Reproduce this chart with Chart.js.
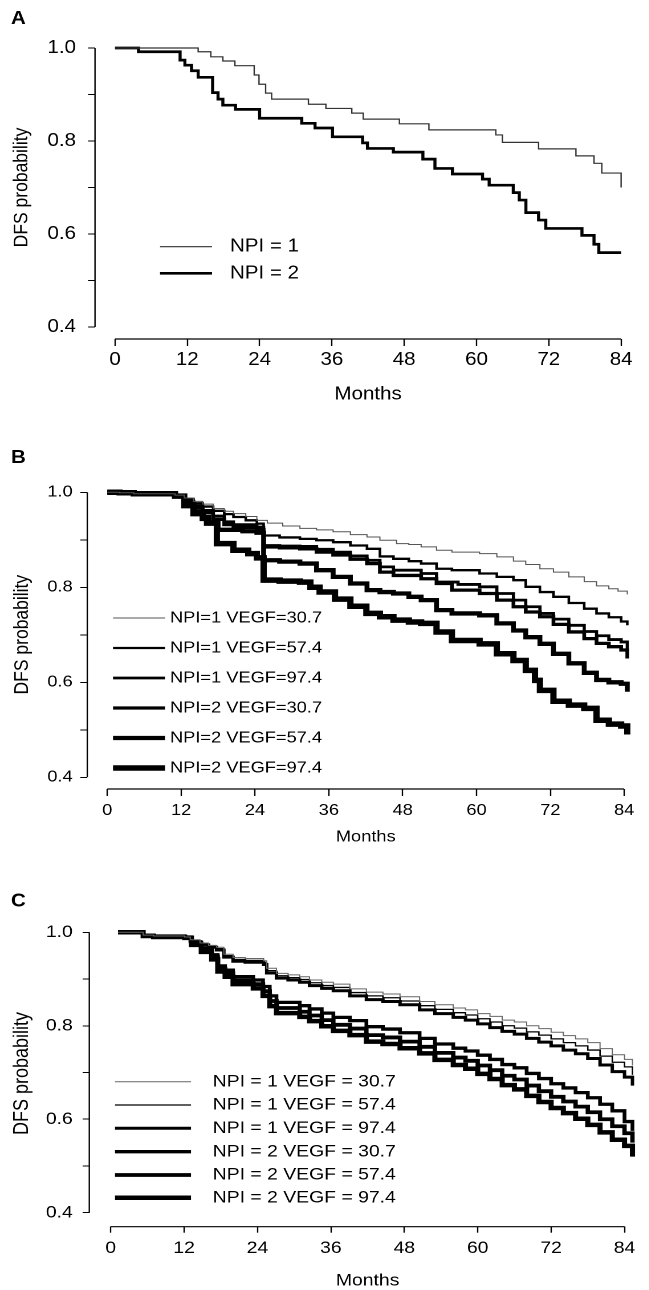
<!DOCTYPE html>
<html><head><meta charset="utf-8">
<script src="https://cdn.jsdelivr.net/npm/chart.js@4/dist/chart.umd.min.js"></script>
<style>
html,body{margin:0;padding:0;background:#fff;}
body{width:649px;height:1290px;position:relative;overflow:hidden;}
.panel{position:absolute;left:0;transform-origin:0 0;transform:scaleX(1.14);}
canvas{display:block;}
</style></head><body>
<div class="panel" style="top:0px"><canvas id="cA"></canvas></div>
<div class="panel" style="top:420px"><canvas id="cB"></canvas></div>
<div class="panel" style="top:860px"><canvas id="cC"></canvas></div>
<script>
// ---------- tick labels ----------
const xTicks = [0, 12, 24, 36, 48, 60, 72, 84];
const yTicks = [0.4, 0.5, 0.6, 0.7, 0.8, 0.9, 1.0];
const yTickLabels = ['0.4', '', '0.6', '', '0.8', '', '1.0'];

// ---------- legends ----------
const legendA = ['NPI = 1', 'NPI = 2'];
const legendB = ['NPI=1 VEGF=30.7', 'NPI=1 VEGF=57.4', 'NPI=1 VEGF=97.4', 'NPI=2 VEGF=30.7', 'NPI=2 VEGF=57.4', 'NPI=2 VEGF=97.4'];
const legendC = ['NPI = 1 VEGF = 30.7', 'NPI = 1 VEGF = 57.4', 'NPI = 1 VEGF = 97.4', 'NPI = 2 VEGF = 30.7', 'NPI = 2 VEGF = 57.4', 'NPI = 2 VEGF = 97.4'];

// ---------- Panel A : [month, DFS probability] ----------
const aNpi1 = [[0,1.0],[13.8,0.992],[15.9,0.981],[17.9,0.972],[19.9,0.962],[23.1,0.942],[23.9,0.922],[25,0.903],[26,0.890],[32.1,0.879],[35,0.870],[39.3,0.860],[41.2,0.847],[47.2,0.837],[52.1,0.824],[63.2,0.813],[64.3,0.797],[70.3,0.783],[76.5,0.768],[79.5,0.752],[80.8,0.731],[84,0.700]];
const aNpi2 = [[0,1.0],[3.9,0.992],[10.8,0.974],[11.6,0.963],[12.7,0.951],[13.8,0.937],[16.2,0.904],[17.1,0.890],[17.9,0.877],[20,0.868],[24,0.849],[31,0.838],[33.2,0.828],[36.1,0.809],[41.1,0.796],[41.9,0.784],[46.2,0.776],[51.1,0.761],[53.1,0.741],[56,0.729],[61,0.718],[62.1,0.705],[66.1,0.689],[67.1,0.673],[68.2,0.646],[70.3,0.630],[71.5,0.612],[77.5,0.597],[79.5,0.578],[80.3,0.560],[84,0.560]];

// ---------- Panel B ----------
const bN1V31 = [[0,1],[2,0.999],[4.3,0.997],[11,0.994],[12.5,0.988],[14,0.981],[15.5,0.975],[17.2,0.966],[19,0.960],[20.5,0.955],[22.5,0.949],[24.3,0.941],[26,0.935],[28.5,0.929],[31.3,0.924],[34,0.921],[36.7,0.917],[39.5,0.911],[42.2,0.906],[44.3,0.899],[47,0.892],[49,0.890],[51,0.885],[53.5,0.878],[56,0.874],[60.5,0.871],[63.3,0.864],[66,0.855],[68,0.848],[70.3,0.839],[72.5,0.832],[75,0.822],[77.5,0.812],[79.5,0.803],[81.5,0.797],[83,0.792],[84.5,0.785]];
const bN1V57 = [[0,1],[2,0.999],[4.3,0.997],[11,0.994],[12.5,0.986],[14,0.977],[15.5,0.970],[17.2,0.961],[19,0.954],[20.5,0.948],[22.5,0.941],[24.3,0.934],[25.4,0.909],[28,0.905],[31.3,0.902],[34,0.899],[36.7,0.895],[39.5,0.888],[42.2,0.881],[44.3,0.865],[46.5,0.860],[49,0.855],[51,0.850],[53.5,0.839],[56,0.836],[60.5,0.829],[63.3,0.822],[66,0.815],[68,0.801],[70.3,0.790],[72.5,0.780],[75,0.767],[77.5,0.755],[79.5,0.745],[81.5,0.737],[83.5,0.728],[84.5,0.720]];
const bN1V97 = [[0,1],[2,0.999],[4.3,0.997],[11,0.993],[12.5,0.982],[14,0.972],[15.5,0.962],[17.2,0.950],[19,0.938],[20.5,0.932],[24.3,0.927],[25.4,0.888],[28,0.887],[31.3,0.886],[34,0.880],[36.7,0.874],[39.5,0.866],[42.2,0.857],[44.3,0.843],[46.5,0.836],[51,0.829],[53.5,0.811],[57,0.806],[60.5,0.801],[63.3,0.787],[66,0.773],[68,0.759],[70.3,0.745],[72.5,0.733],[75,0.720],[77.5,0.707],[79.5,0.698],[81.5,0.690],[83.5,0.685],[84.5,0.665]];
const bN2V31 = [[0,1],[2,0.999],[4.3,0.997],[11,0.993],[12.5,0.980],[14,0.968],[15.5,0.957],[17.2,0.943],[19,0.932],[20.5,0.926],[24.3,0.922],[25.4,0.885],[28,0.883],[31.3,0.881],[34,0.874],[36.7,0.868],[39.5,0.859],[42.2,0.850],[44.3,0.832],[46.5,0.825],[51,0.818],[53.5,0.808],[56,0.794],[60.5,0.787],[63.3,0.773],[66,0.759],[68,0.748],[70.3,0.738],[72.5,0.722],[75,0.706],[77.5,0.692],[79.5,0.682],[81.5,0.675],[83.5,0.668],[84.5,0.650]];
const bN2V57 = [[0,1],[2,0.999],[4.3,0.997],[11,0.992],[12.5,0.975],[14,0.960],[15.5,0.948],[16.5,0.935],[18,0.921],[22,0.918],[24.3,0.915],[25.4,0.857],[28,0.854],[31.3,0.850],[34,0.836],[36.7,0.822],[39.5,0.808],[42.2,0.794],[44.3,0.790],[46.5,0.787],[49,0.780],[51,0.773],[53.5,0.752],[56,0.745],[60.5,0.741],[63.3,0.724],[66,0.709],[68,0.695],[70.3,0.681],[72.5,0.660],[75,0.640],[77.5,0.620],[79.5,0.605],[81.5,0.600],[83.5,0.597],[84.5,0.580]];
const bN2V97 = [[0,1],[2,0.999],[4.3,0.997],[11,0.992],[12.5,0.972],[14,0.955],[15.5,0.945],[16.2,0.935],[17.8,0.892],[20.5,0.878],[22.9,0.871],[24.3,0.862],[25.4,0.815],[28,0.813],[31.3,0.811],[33,0.800],[34.5,0.790],[37,0.775],[39.5,0.760],[42.1,0.745],[44.3,0.738],[46.5,0.731],[49,0.727],[51,0.724],[53.5,0.706],[56,0.688],[60.5,0.681],[63.3,0.660],[66,0.646],[68,0.625],[69.5,0.604],[70.3,0.583],[72.5,0.560],[75,0.552],[77.5,0.545],[79.5,0.520],[81.5,0.512],[83.5,0.508],[84.5,0.490]];

// ---------- Panel C ----------
const cN1V31 = [[1.2,1],[5.3,0.994],[7,0.992],[12.1,0.990],[13,0.984],[14.6,0.977],[16,0.972],[17.3,0.968],[18.5,0.953],[20,0.946],[22,0.944],[25,0.939],[25.5,0.923],[27.1,0.912],[29,0.909],[30.9,0.905],[32.5,0.898],[34.5,0.893],[36.4,0.889],[39.1,0.879],[41.8,0.872],[44.5,0.868],[47.3,0.862],[50.5,0.852],[53,0.845],[56,0.838],[58,0.834],[60,0.826],[62,0.820],[64,0.812],[66,0.808],[68,0.800],[70,0.794],[72,0.786],[74,0.779],[76,0.772],[78,0.764],[80,0.751],[82,0.738],[84,0.728],[85.3,0.715]];
const cN1V57 = [[1.2,1],[5.3,0.993],[7,0.991],[12.1,0.989],[13,0.982],[14.6,0.975],[16,0.970],[17.3,0.965],[18.5,0.950],[20,0.942],[22,0.940],[25,0.935],[25.5,0.918],[27.1,0.907],[29,0.903],[30.9,0.899],[32.5,0.892],[34.5,0.886],[36.4,0.882],[39.1,0.871],[41.8,0.864],[44.5,0.860],[47.3,0.853],[50.5,0.843],[53,0.835],[56,0.828],[58,0.823],[60,0.815],[62,0.808],[64,0.800],[66,0.795],[68,0.787],[70,0.780],[72,0.772],[74,0.764],[76,0.757],[78,0.748],[80,0.735],[82,0.722],[84,0.712],[85.3,0.695]];
const cN1V97 = [[1.2,1],[5.3,0.992],[7,0.990],[12.1,0.988],[13,0.980],[14.6,0.973],[16,0.968],[17.3,0.962],[18.5,0.947],[20,0.938],[22,0.936],[25,0.931],[25.5,0.913],[27.1,0.902],[29,0.898],[30.9,0.893],[32.5,0.886],[34.5,0.880],[36.4,0.875],[39.1,0.864],[41.8,0.856],[44.5,0.852],[47.3,0.845],[50.5,0.834],[53,0.826],[56,0.818],[58,0.812],[60,0.804],[62,0.796],[64,0.788],[66,0.782],[68,0.773],[70,0.765],[72,0.757],[74,0.748],[76,0.740],[78,0.730],[80,0.716],[82,0.702],[84,0.690],[85.3,0.672]];
const cN2V31 = [[1.2,1],[5.3,0.994],[7,0.992],[12.1,0.990],[13.2,0.979],[14.8,0.966],[16.5,0.952],[17.5,0.928],[18.7,0.919],[20,0.905],[23.3,0.898],[24.9,0.884],[26,0.864],[27.1,0.850],[30.9,0.843],[32.5,0.836],[34.5,0.827],[36.4,0.818],[39.1,0.811],[41.8,0.798],[44.5,0.793],[47.3,0.785],[50.5,0.773],[53,0.761],[56,0.752],[58,0.746],[60,0.737],[62,0.728],[64,0.717],[66,0.710],[68,0.698],[70,0.687],[72,0.676],[74,0.667],[76,0.657],[78,0.646],[80,0.632],[82,0.618],[84,0.595],[85.3,0.575]];
const cN2V57 = [[1.2,1],[5.3,0.993],[7,0.991],[12.1,0.989],[13.2,0.976],[14.8,0.962],[16.5,0.947],[17.5,0.922],[18.7,0.912],[20,0.897],[23.3,0.889],[24.9,0.874],[26,0.853],[27.1,0.838],[30.9,0.830],[32.5,0.822],[34.5,0.812],[36.4,0.802],[39.1,0.794],[41.8,0.780],[44.5,0.775],[47.3,0.766],[50.5,0.755],[53,0.742],[56,0.732],[58,0.725],[60,0.715],[62,0.705],[64,0.693],[66,0.685],[68,0.672],[70,0.660],[72,0.648],[74,0.638],[76,0.627],[78,0.615],[80,0.600],[82,0.585],[84,0.570],[85.3,0.550]];
const cN2V97 = [[1.2,1],[5.3,0.992],[7,0.990],[12.1,0.988],[13.2,0.973],[14.8,0.958],[16.5,0.942],[17.5,0.916],[18.7,0.905],[20,0.889],[23.3,0.880],[24.9,0.864],[26,0.842],[27.1,0.827],[30.9,0.819],[32.5,0.810],[34.5,0.799],[36.4,0.789],[39.1,0.780],[41.8,0.766],[44.5,0.761],[47.3,0.752],[50.5,0.741],[53,0.727],[56,0.716],[58,0.708],[60,0.697],[62,0.686],[64,0.673],[66,0.664],[68,0.650],[70,0.637],[72,0.624],[74,0.613],[76,0.601],[78,0.588],[80,0.572],[82,0.556],[84,0.543],[85.3,0.520]];

// ---------- rendering ----------
const S = 1.14;          // horizontal stretch of the original figure
const CW = 570;          // canvas CSS width before stretch
const FONT = "'Liberation Sans', Arial, Helvetica, sans-serif";
Chart.defaults.font.family = FONT;
Chart.defaults.color = '#000';

function toXY(p) { return p.map(([x, y]) => ({x, y})); }

function makePanel(id, H, L, series, labels, styles, letter) {
  const ppm = (L.x84 - L.x0) / 84;
  const areaRight = L.x0 + L.x84 - L.axisX;
  const xMin = -(L.x0 - L.axisX) / ppm;
  const xMax = 84 + (areaRight - L.x84) / ppm;
  const ppu = (L.yBot - L.yTop) / 0.6;
  const topGap = 12;
  const yMax = 1 + topGap / ppu;
  const yMin = 0.4 - (L.axisY - L.yBot) / ppu;
  const canvas = document.getElementById(id);
  canvas.width = CW; canvas.height = H;
  canvas.style.width = CW + 'px'; canvas.style.height = H + 'px';

  const deco = {
    id: 'deco' + id,
    afterDraw(chart) {
      const {ctx, chartArea: a, scales: {x, y}} = chart;
      ctx.save();
      ctx.strokeStyle = '#000'; ctx.lineWidth = 1.2;
      ctx.beginPath();
      ctx.moveTo(a.left, y.getPixelForValue(1)); ctx.lineTo(a.left, y.getPixelForValue(0.4));
      ctx.moveTo(x.getPixelForValue(0), a.bottom); ctx.lineTo(x.getPixelForValue(84), a.bottom);
      ctx.stroke();
      ctx.textBaseline = 'middle'; ctx.textAlign = 'left';
      chart.data.datasets.forEach((ds, i) => {
        const ry = L.legRows[i];
        ctx.strokeStyle = ds.borderColor; ctx.lineWidth = ds.borderWidth; ctx.lineCap = 'butt';
        ctx.beginPath(); ctx.moveTo(L.legX1 / S, ry); ctx.lineTo(L.legX2 / S, ry); ctx.stroke();
        ctx.fillStyle = '#000'; ctx.font = L.legFs + 'px ' + FONT;
        ctx.fillText(ds.label, L.legTX / S, ry);
      });
      ctx.font = 'bold 18px ' + FONT;
      ctx.fillText(letter, 11 / S, L.letterY);
      ctx.restore();
    }
  };

  new Chart(canvas, {
    type: 'line',
    data: {
      datasets: series.map((d, i) => ({
        label: labels[i], data: toXY(d), borderColor: styles[i].c, borderWidth: styles[i].w,
        stepped: true, pointRadius: 0, fill: false, borderCapStyle: 'butt', borderJoinStyle: 'miter', clip: false
      }))
    },
    options: {
      responsive: false, animation: false, devicePixelRatio: 2,
      layout: {padding: {left: 0, top: L.yTop - topGap, right: CW - areaRight / S, bottom: 0}},
      plugins: {legend: {display: false}, tooltip: {enabled: false}},
      scales: {
        x: {
          type: 'linear', min: xMin, max: xMax, offset: false,
          afterBuildTicks: s => { s.ticks = xTicks.map(v => ({value: v})); },
          afterFit: s => { s.height = H - L.axisY; },
          grid: {display: true, drawOnChartArea: false, drawTicks: true, tickLength: L.tlx, tickWidth: 1.2, tickColor: '#000'},
          border: {display: false},
          ticks: {padding: L.xpad, font: {size: L.fs}, maxRotation: 0, autoSkip: false, color: '#000',
                  callback: (v, i) => String(xTicks[i])},
          title: {display: true, text: 'Months', color: '#000', font: {size: L.fsT, lineHeight: L.lhT}, padding: {top: 0, bottom: L.tpad}}
        },
        y: {
          type: 'linear', min: yMin, max: yMax,
          afterBuildTicks: s => { s.ticks = yTicks.map(v => ({value: v})); },
          afterFit: s => { s.width = L.axisX / S; },
          grid: {display: true, drawOnChartArea: false, drawTicks: true, tickLength: L.tly / S, tickWidth: 1, tickColor: '#000'},
          border: {display: false},
          ticks: {padding: L.ypad, font: {size: L.fs}, color: '#000', autoSkip: false,
                  callback: (v, i) => yTickLabels[i]},
          title: {display: true, text: 'DFS probability', color: '#000', font: {size: L.fsY}, padding: {top: L.ytpad, bottom: 0}}
        }
      }
    },
    plugins: [deco]
  });
}

makePanel('cA', 420,
  {axisX: 95, x0: 115, x84: 621.1, yTop: 48, yBot: 327, axisY: 339, tlx: 7, tly: 7,
   xpad: 3.2, ypad: 10.5, fs: 18, fsT: 18, lhT: 1.2, tpad: 14.7, fsY: 17.5, ytpad: 8.8,
   legX1: 160, legX2: 212, legTX: 230, legFs: 18, legRows: [246.7, 273.3], letterY: 19},
  [aNpi1, aNpi2], legendA,
  [{c: '#333', w: 1.2}, {c: '#000', w: 2.7}], 'A');

makePanel('cB', 440,
  {axisX: 87.3, x0: 107.3, x84: 624.2, yTop: 72.3, yBot: 357.3, axisY: 369, tlx: 7, tly: 7,
   xpad: 5, ypad: 6.7, fs: 16, fsT: 16, lhT: 1.2, tpad: 13.4, fsY: 17.5, ytpad: 9.2,
   legX1: 113, legX2: 165, legTX: 170, legFs: 16, legRows: [198, 228, 258, 288, 318, 348], letterY: 38},
  [bN1V31, bN1V57, bN1V97, bN2V31, bN2V57, bN2V97], legendB,
  [{c: '#555', w: 1}, {c: '#000', w: 2.3}, {c: '#000', w: 2.8}, {c: '#000', w: 3.3}, {c: '#000', w: 4.3}, {c: '#000', w: 5.5}], 'B');

makePanel('cC', 430,
  {axisX: 89.3, x0: 110.7, x84: 624.5, yTop: 72.3, yBot: 352.7, axisY: 366.7, tlx: 6, tly: 6.7,
   xpad: 5.4, ypad: 8.6, fs: 17, fsT: 17, lhT: 1.0, tpad: 0.5, fsY: 18, ytpad: 8.9,
   legX1: 115, legX2: 191, legTX: 212.7, legFs: 17, legRows: [221.7, 245, 268.3, 291.7, 315, 337.7], letterY: 41.7},
  [cN1V31, cN1V57, cN1V97, cN2V31, cN2V57, cN2V97], legendC,
  [{c: '#666', w: 1}, {c: '#000', w: 1.3}, {c: '#000', w: 3}, {c: '#000', w: 3.3}, {c: '#000', w: 3.8}, {c: '#000', w: 4.5}], 'C');
</script>
</body></html>
